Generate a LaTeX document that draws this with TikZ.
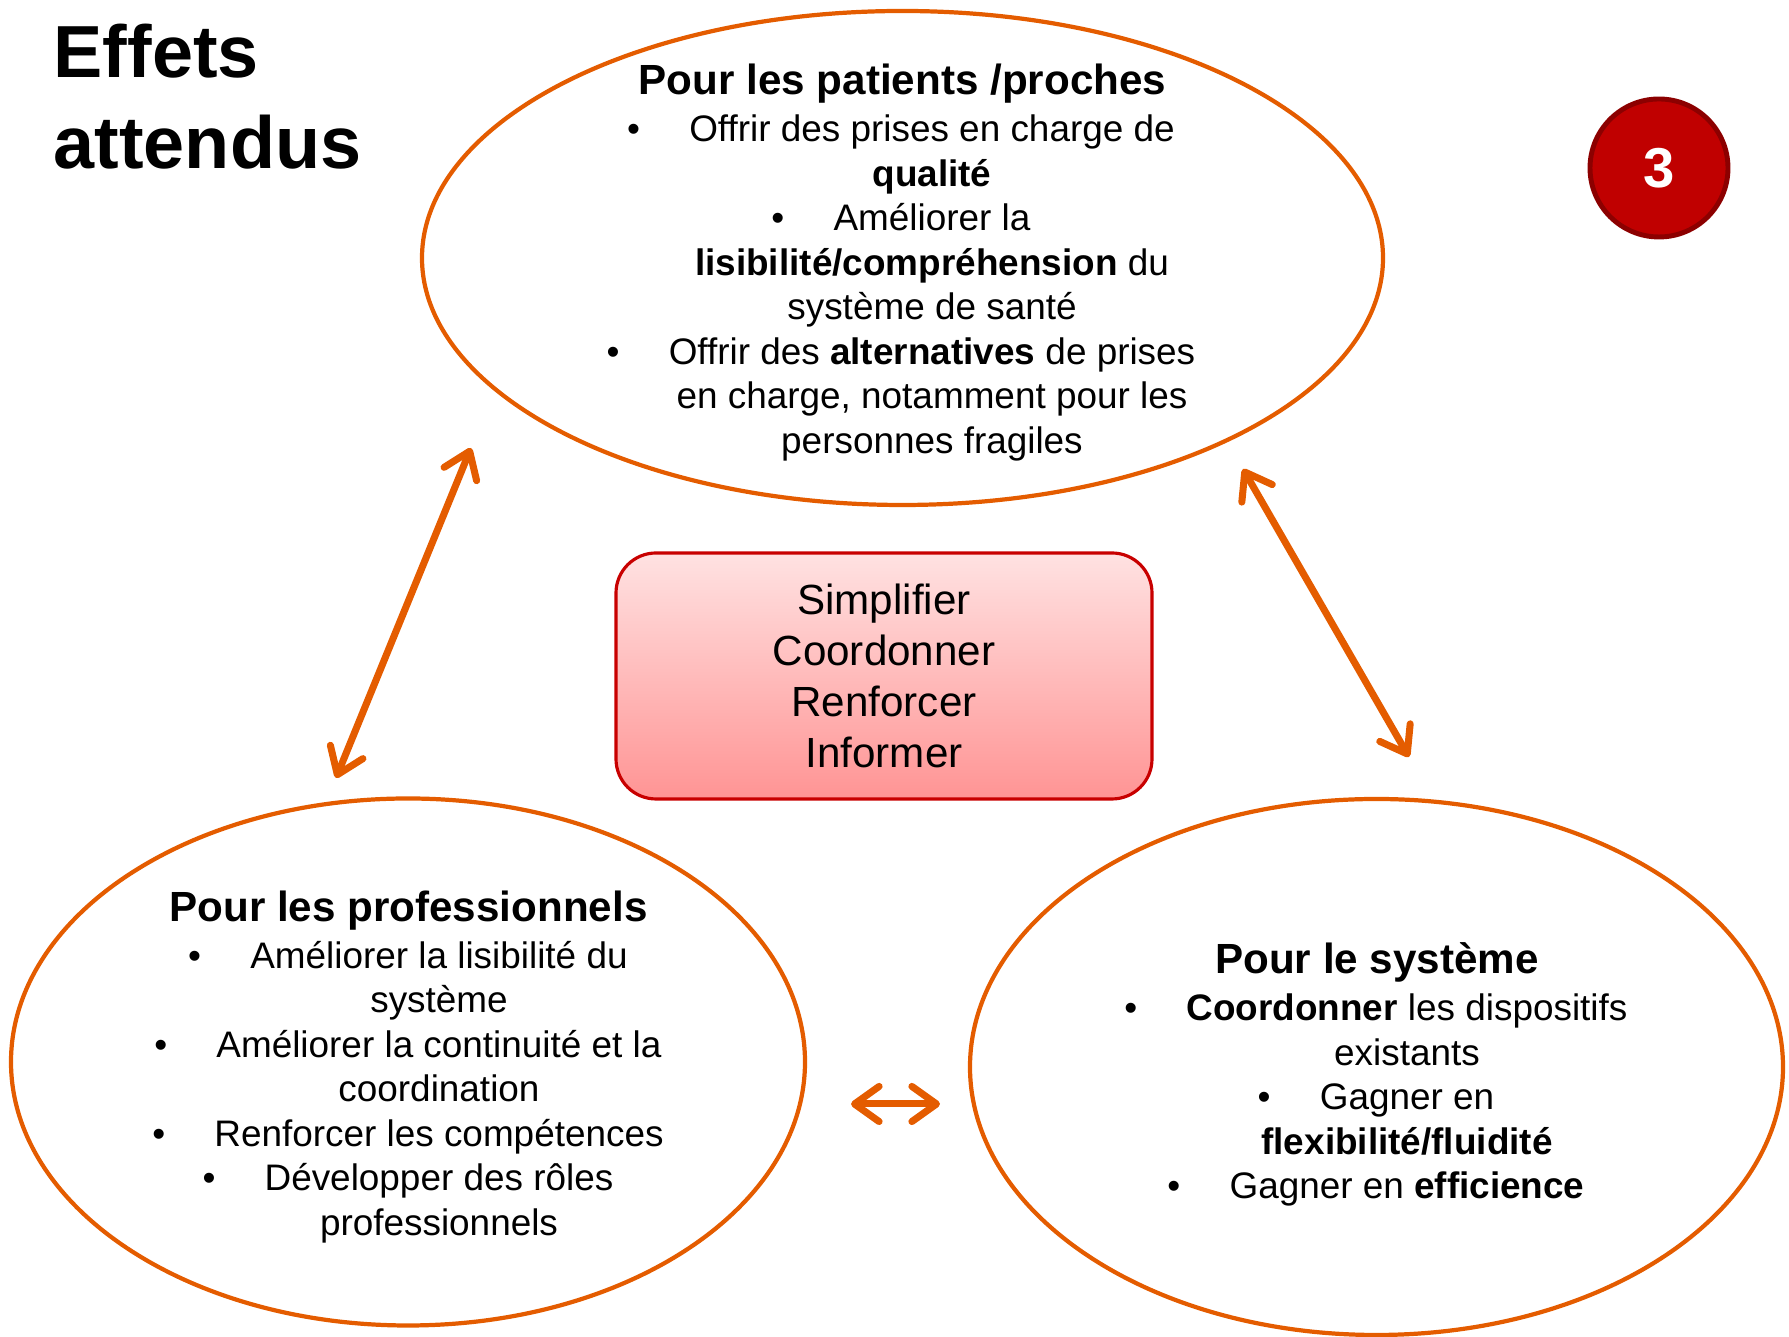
\documentclass[tikz,border=0pt]{standalone}
\usepackage{fontspec}
\setmainfont{Liberation Sans}
\usepackage{xcolor}
\usepackage{tikz}
\usetikzlibrary{shapes.geometric,arrows.meta}
\definecolor{orangeline}{HTML}{E45C00}
\definecolor{badgered}{HTML}{C00000}
\definecolor{badgeedge}{HTML}{8C0000}
\definecolor{boxedge}{HTML}{C80000}
\definecolor{boxtop}{HTML}{FFE2E2}
\definecolor{boxbot}{HTML}{FF9494}
\newcommand{\itm}{\llap{\textbullet\hspace{14pt}}}
\tikzset{
  ring/.style={ellipse, draw=orangeline, line width=1.2pt, inner sep=0pt},
  link/.style={draw=orangeline, line width=2pt, line cap=round, line join=round,
    >={Straight Barb[length=7pt,width=10pt,round]}, <->},
  title/.style={font=\fontsize{21}{25.9}\selectfont\bfseries, align=left, inner sep=0pt},
  head/.style={font=\fontsize{12}{14.4}\selectfont\bfseries, inner sep=0pt},
  body/.style={font=\fontsize{10.5}{12.66}\selectfont, align=center, inner sep=0pt},
  keys/.style={rectangle, rounded corners=0.4cm, draw=boxedge, line width=0.9pt,
    top color=boxtop, bottom color=boxbot, minimum width=5.36cm, minimum height=2.46cm,
    align=center, font=\fontsize{12}{14.5}\selectfont},
  badge/.style={circle, fill=badgered, draw=badgeedge, line width=1.4pt, minimum size=1.38cm,
    text=white, font=\fontsize{16}{19}\selectfont\bfseries},
}
\begin{document}
\begin{tikzpicture}
  \useasboundingbox (0,0) rectangle (17.89,13.37);

  \node[title, anchor=north west] (ttl) at (0.53,13.14) {Effets\\attendus};
  \node[badge] (num) at (16.59,11.69) {3};

  \node[ring, minimum width=9.61cm, minimum height=4.94cm] (pat) at (9.025,10.79) {};
  \node[ring, minimum width=7.94cm, minimum height=5.27cm] (pro) at (4.08,2.75) {};
  \node[ring, minimum width=8.13cm, minimum height=5.36cm] (sys) at (13.765,2.70) {};

  \node[head] (pathd) at (9.025,12.53) {Pour les patients /proches};
  \node[body] (patls) at (9.32,10.49) {\itm Offrir des prises en charge de\\
    \textbf{qualité}\\
    \itm Améliorer la\\
    \textbf{lisibilité/compréhension} du\\
    système de santé\\
    \itm Offrir des \textbf{alternatives} de prises\\
    en charge, notamment pour les\\
    personnes fragiles};

  \node[head] (prohd) at (4.085,4.26) {Pour les professionnels};
  \node[body] (prols) at (4.39,2.45) {\itm Améliorer la lisibilité du\\
    système\\
    \itm Améliorer la continuité et la\\
    coordination\\
    \itm Renforcer les compétences\\
    \itm Développer des rôles\\
    professionnels};

  \node[head] (syshd) at (13.77,3.745) {Pour le système};
  \node[body] (sysls) at (14.07,2.37) {\itm \textbf{Coordonner} les dispositifs\\
    existants\\
    \itm Gagner en\\
    \textbf{flexibilité/fluidité}\\
    \itm Gagner en \textbf{efficience}};

  \node[keys] (core) at (8.84,6.61) {Simplifier\\Coordonner\\Renforcer\\Informer};

  \coordinate (proTop) at (3.36,5.59);
  \coordinate (patLeft) at (4.71,8.89);
  \coordinate (patRight) at (12.43,8.68);
  \coordinate (sysTop) at (14.09,5.80);
  \coordinate (proRight) at (8.51,2.33);
  \coordinate (sysLeft) at (9.40,2.33);

  \draw[link] (proTop) -- (patLeft);
  \draw[link] (patRight) -- (sysTop);
  \draw[link] (proRight) -- (sysLeft);
\end{tikzpicture}
\end{document}
